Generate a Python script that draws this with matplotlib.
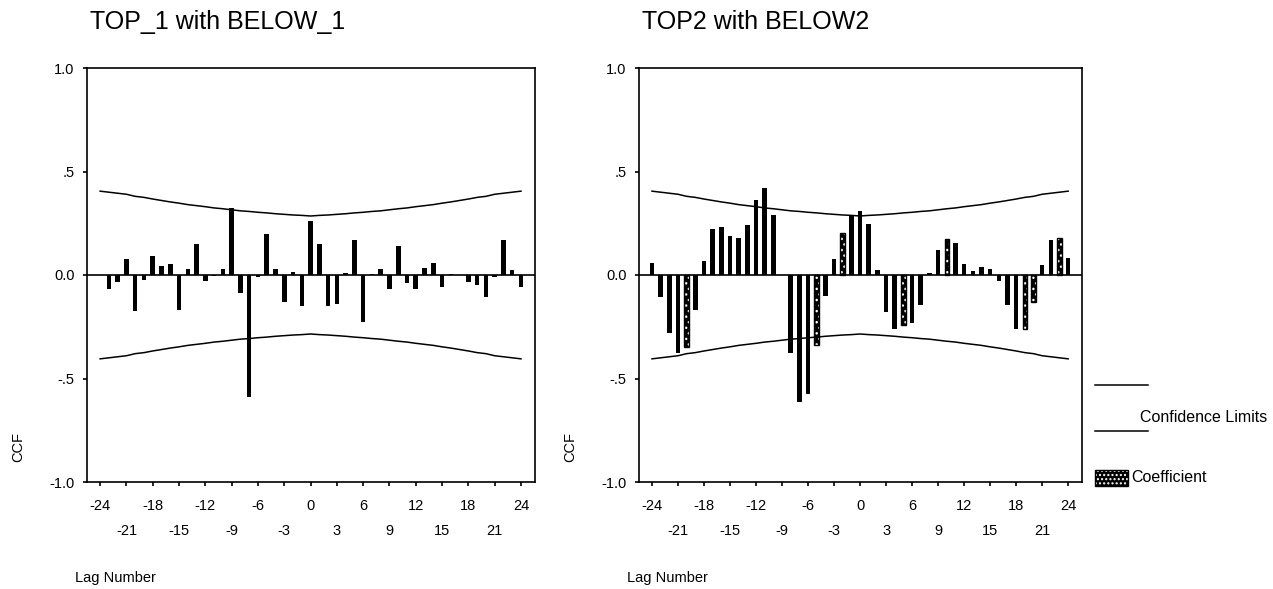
import matplotlib
matplotlib.use("Agg")
import matplotlib.pyplot as plt
from matplotlib.patches import Rectangle
from matplotlib.lines import Line2D

plt.rcParams['font.family'] = ['Liberation Sans', 'DejaVu Sans']

# Lags -24 .. 24
lags = list(range(-24, 25))

ccf_top1_below1 = [
    0.00, -0.07, -0.035, 0.075, -0.175, -0.025, 0.09, 0.045, 0.055, -0.17,
    0.03, 0.15, -0.03, -0.005, 0.03, 0.325, -0.085, -0.59, -0.01, 0.20,
    0.03, -0.13, 0.015, -0.15, 0.26, 0.15, -0.15, -0.14, 0.01, 0.17,
    -0.225, 0.005, 0.03, -0.07, 0.14, -0.04, -0.07, 0.035, 0.06, -0.06,
    0.005, 0.00, -0.035, -0.05, -0.105, -0.01, 0.17, 0.025, -0.06,
]

ccf_top2_below2 = [
    0.06, -0.105, -0.28, -0.375, -0.35, -0.17, 0.07, 0.22, 0.23, 0.19,
    0.18, 0.24, 0.36, 0.42, 0.29, 0.00, -0.375, -0.615, -0.575, -0.34,
    -0.10, 0.075, 0.205, 0.29, 0.31, 0.245, 0.025, -0.18, -0.26, -0.24,
    -0.23, -0.145, 0.01, 0.12, 0.175, 0.155, 0.055, 0.02, 0.04, 0.03,
    -0.03, -0.145, -0.26, -0.26, -0.13, 0.05, 0.17, 0.18, 0.08,
]

# bars printed with the dotted fill pattern
hatched_top2 = [-20, -5, -2, 5, 10, 19, 20, 23]

# upper confidence limit by lag (lower limit is its mirror)
conf_upper = [
    0.405, 0.40, 0.395, 0.39, 0.38, 0.375, 0.367, 0.36, 0.353, 0.347,
    0.34, 0.335, 0.33, 0.324, 0.32, 0.315, 0.31, 0.307, 0.303, 0.30,
    0.296, 0.293, 0.29, 0.288, 0.285, 0.288, 0.29, 0.293, 0.296, 0.30,
    0.303, 0.307, 0.31, 0.315, 0.32, 0.324, 0.33, 0.335, 0.34, 0.347,
    0.353, 0.36, 0.367, 0.375, 0.38, 0.39, 0.395, 0.40, 0.405,
]

titles = ["TOP_1 with BELOW_1", "TOP2 with BELOW2"]
ytick_vals = [1.0, 0.5, 0.0, -0.5, -1.0]
ytick_labels = ["1.0", ".5", "0.0", "-.5", "-1.0"]
xtick_row1 = [-24, -18, -12, -6, 0, 6, 12, 18, 24]
xtick_row2 = [-21, -15, -9, -3, 3, 9, 15, 21]

W, H = 1273, 589
fig = plt.figure(figsize=(W / 100, H / 100), dpi=100)
fig.patch.set_facecolor("white")


def px_axes(x0, x1, ytop, ybot):
    return fig.add_axes([x0 / W, 1 - ybot / H, (x1 - x0) / W, (ybot - ytop) / H])


panels = [
    (px_axes(87, 535, 68, 482), ccf_top1_below1, [], titles[0]),
    (px_axes(639, 1082, 68, 482), ccf_top2_below2, hatched_top2, titles[1]),
]

plt.rcParams['hatch.linewidth'] = 1.0
bar_w = 0.52

for ax, vals, hatched, title in panels:
    ax.set_xlim(-25.5, 25.6)
    ax.set_ylim(-1.0, 1.0)
    for s in ax.spines.values():
        s.set_linewidth(1.2)
        s.set_color("black")

    solid_x = [l for l in lags if l not in hatched]
    solid_v = [v for l, v in zip(lags, vals) if l not in hatched]
    ax.bar(solid_x, solid_v, width=bar_w, color="black", linewidth=0, zorder=3)
    if hatched:
        hv = [vals[lags.index(l)] for l in hatched]
        ax.bar(hatched, hv, width=bar_w, color="black", edgecolor="white",
               hatch="...", linewidth=0, zorder=3)
        ax.bar(hatched, hv, width=bar_w, fill=False, edgecolor="black",
               linewidth=1.0, zorder=4)

    ax.axhline(0, color="black", lw=1.2, zorder=2)
    ax.plot(lags, conf_upper, color="black", lw=1.1, zorder=2)
    ax.plot(lags, [-c for c in conf_upper], color="black", lw=1.1, zorder=2)

    ax.set_yticks(ytick_vals)
    ax.set_yticklabels(ytick_labels)
    ax.set_xticks(xtick_row1)
    ax.set_xticklabels([str(v) for v in xtick_row1])
    ax.set_xticks(xtick_row2, minor=True)
    ax.set_xticklabels([str(v) for v in xtick_row2], minor=True)
    ax.tick_params(axis="both", which="both", direction="out", length=3,
                   width=1.2, labelsize=10.5, colors="black")
    ax.tick_params(axis="x", which="major", pad=9)
    ax.tick_params(axis="x", which="minor", pad=27)
    ax.tick_params(axis="y", pad=6)

    bbox = ax.get_position()
    fig.text(bbox.x0 + 3 / W, 1 - 22 / H, title, fontsize=18,
             ha="left", va="center")
    fig.text(bbox.x0 - 12 / W, 1 - 578 / H, "Lag Number", fontsize=10.5,
             ha="left", va="center")
    fig.text(bbox.x0 - 69 / W, 1 - 447 / H, "CCF", fontsize=10.5,
             rotation=90, ha="center", va="center")

# legend to the right of the second panel
fig.add_artist(Line2D([1095 / W, 1148 / W], [1 - 385 / H, 1 - 385 / H],
                      color="black", lw=1.1))
fig.add_artist(Line2D([1095 / W, 1148 / W], [1 - 431 / H, 1 - 431 / H],
                      color="black", lw=1.1))
fig.text(1140 / W, 1 - 418 / H, "Confidence Limits", fontsize=11.5,
         ha="left", va="center")
fig.add_artist(Rectangle((1095 / W, 1 - 486 / H), 33 / W, 16 / H,
                         transform=fig.transFigure, facecolor="black",
                         edgecolor="white", hatch="....", linewidth=0))
fig.add_artist(Rectangle((1095 / W, 1 - 486 / H), 33 / W, 16 / H,
                         transform=fig.transFigure, fill=False,
                         edgecolor="black", linewidth=1.0))
fig.text(1131 / W, 1 - 478 / H, "Coefficient", fontsize=11.5,
         ha="left", va="center")

fig.savefig("out.png", dpi=100, facecolor="white")
